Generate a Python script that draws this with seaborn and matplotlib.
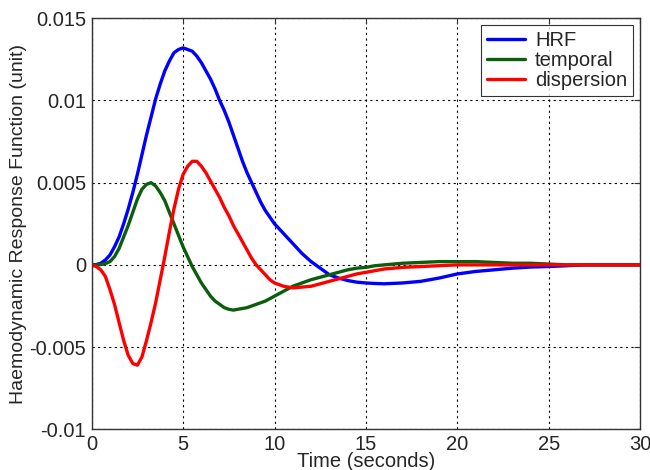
import seaborn as sns
import matplotlib
matplotlib.use("Agg")
from matplotlib import pyplot as plt

time = [0, 0.25, 0.5, 0.75, 1, 1.25, 1.5, 1.75, 2, 2.25,
        2.5, 2.75, 3, 3.25, 3.5, 3.75, 4, 4.25, 4.5, 4.75,
        5, 5.25, 5.5, 5.75, 6, 6.25, 6.5, 6.75, 7, 7.25,
        7.5, 7.75, 8, 8.25, 8.5, 8.75, 9, 9.25, 9.5, 9.75,
        10,
        10.5, 11, 11.5, 12, 12.5, 13, 13.5, 14, 14.5, 15, 15.5, 16,
        17, 18, 19, 20, 21, 22, 23, 24, 25, 26, 27, 28, 29, 30]

hrf = [0, 0.00002, 0.0001, 0.0003, 0.0006, 0.0011, 0.0017, 0.0025, 0.0034, 0.0044,
       0.0055, 0.0067, 0.0079, 0.0090, 0.0101, 0.0110, 0.0118, 0.0124, 0.0129, 0.0131,
       0.0132, 0.0131, 0.0130, 0.0127, 0.0123, 0.0118, 0.0113, 0.0107, 0.0100, 0.0094,
       0.0087, 0.0079, 0.0071, 0.0063, 0.0056, 0.0050, 0.0044, 0.0038, 0.0033, 0.0029,
       0.0025,
       0.0019, 0.0013, 0.0007, 0.0002, -0.0002, -0.0006, -0.0008, -0.00095, -0.00105, -0.0011, -0.00113, -0.00115,
       -0.0011, -0.0010, -0.0008, -0.00055, -0.0004, -0.0003, -0.0002, -0.00013, -0.0001, -0.00005, 0, 0, 0, 0]

temporal = [0, 0, 0.00002, 0.00008, 0.0002, 0.0005, 0.0010, 0.0017, 0.0024, 0.0032,
            0.0040, 0.0046, 0.0049, 0.0050, 0.0048, 0.0044, 0.0039, 0.0032, 0.0025, 0.0018,
            0.0011, 0.0005, -0.0001, -0.0006, -0.0011, -0.0015, -0.0019, -0.0022, -0.0024, -0.0026,
            -0.0027, -0.00275, -0.0027, -0.00265, -0.0026, -0.0025, -0.0024, -0.0023, -0.0022, -0.00205,
            -0.0019,
            -0.0016, -0.0013, -0.0011, -0.0009, -0.00075, -0.0006, -0.00045, -0.0003, -0.0002, -0.00015, -0.00005, 0.0,
            0.0001, 0.00015, 0.0002, 0.0002, 0.0002, 0.00015, 0.0001, 0.0001, 0.00005, 0, 0, 0, 0, 0]

dispersion = [0, -0.0001, -0.0003, -0.0007, -0.0015, -0.0024, -0.0035, -0.0046, -0.0055, -0.0060,
              -0.0061, -0.0056, -0.0046, -0.0035, -0.0023, -0.0009, 0.0005, 0.0020, 0.0034, 0.0046,
              0.0055, 0.0060, 0.0063, 0.0063, 0.0060, 0.0056, 0.0051, 0.0046, 0.0041, 0.0035,
              0.0030, 0.0024, 0.0019, 0.0014, 0.0009, 0.0004, 0.0000, -0.0003, -0.0006, -0.0009,
              -0.0011,
              -0.0013, -0.0014, -0.00135, -0.0013, -0.00115, -0.0010, -0.00085, -0.0007, -0.00055, -0.00045, -0.00035, -0.00025,
              -0.00015, -0.0001, -0.00005, 0, 0, 0, 0, 0, 0, 0, 0, 0, 0, 0]

yticks = [-0.01, -0.005, 0, 0.005, 0.01, 0.015]
ytick_labels = ["-0.01", "-0.005", "0", "0.005", "0.01", "0.015"]
xticks = [0, 5, 10, 15, 20, 25, 30]

sns.set_style("white")
plt.rcParams['font.family'] = ['Liberation Sans', 'DejaVu Sans']

fig = plt.figure(figsize=(6.5, 4.7), dpi=100)
ax = fig.add_axes([0.141, 0.0866, 0.844, 0.8745])

sns.lineplot(x=time, y=hrf, color="#0000ff", lw=2.4, ax=ax, label="HRF")
sns.lineplot(x=time, y=temporal, color="#0b5e0b", lw=2.4, ax=ax, label="temporal")
sns.lineplot(x=time, y=dispersion, color="#ff0000", lw=2.4, ax=ax, label="dispersion")

ax.set_xlim(0, 30)
ax.set_ylim(-0.01, 0.015)
ax.set_xticks(xticks)
ax.set_yticks(yticks)
ax.set_yticklabels(ytick_labels)
ax.tick_params(direction="in", length=4, labelsize=14.5, top=True, right=True,
               color="#333333")
ax.tick_params(axis="x", pad=4)
ax.tick_params(axis="y", pad=4)
ax.grid(True, linestyle=(0, (2, 3)), color="black", linewidth=0.8)
for s in ax.spines.values():
    s.set_color("#333333")
    s.set_linewidth(1.0)

ax.set_xlabel("Time (seconds)", fontsize=14.5, labelpad=-1)
ax.set_ylabel("Haemodynamic Response Function (unit)", fontsize=14, labelpad=2)

leg = ax.legend(loc="upper right", fontsize=14.5, frameon=True, fancybox=False,
                handlelength=1.9, borderpad=0.3, labelspacing=0.05, borderaxespad=0.35,
                handletextpad=0.5)
leg.get_frame().set_edgecolor("black")
leg.get_frame().set_linewidth(0.8)

fig.savefig("out.png", dpi=100)
plt.close()
